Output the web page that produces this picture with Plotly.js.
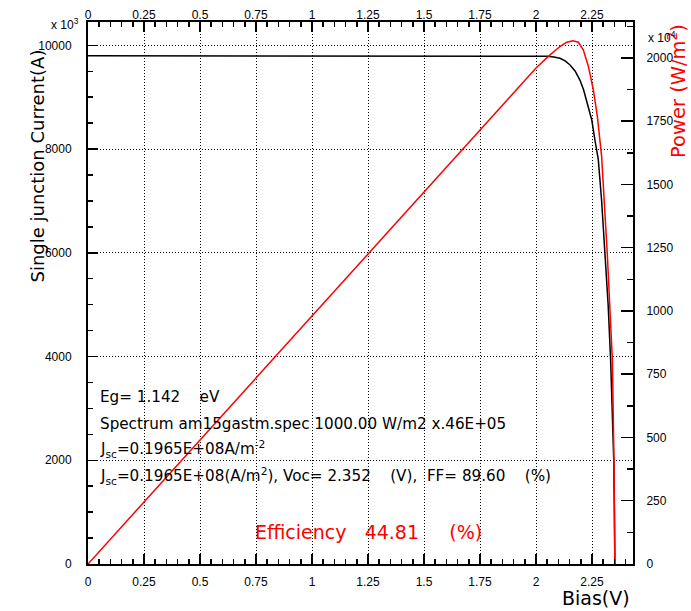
<!DOCTYPE html>
<html>
<head>
<meta charset="utf-8">
<script src="https://cdn.plot.ly/plotly-3.0.1.min.js"></script>
<style>html,body{margin:0;padding:0;background:#fff;}#chart{width:691px;height:611px;}</style>
</head>
<body>
<div id="chart"></div>
<script>
// Current vs bias (x 10^3 A)
const biasIV = [0, 0.5, 1.0, 1.5, 1.9, 2.0, 2.05, 2.08, 2.107, 2.13, 2.152, 2.175, 2.196, 2.212, 2.226, 2.249, 2.263, 2.278, 2.293, 2.308, 2.322, 2.333, 2.342, 2.347, 2.35, 2.352];
const current = [9800, 9800, 9800, 9800, 9800, 9798, 9790, 9775, 9750, 9700, 9620, 9500, 9330, 9150, 8945, 8560, 8175, 7800, 7000, 6000, 5000, 3950, 2900, 2000, 1000, 0];
// Power vs bias (x 10^4 W/m^2)
const biasP = [0, 1.0, 2.0, 2.06, 2.107, 2.137, 2.165, 2.189, 2.211, 2.234, 2.256, 2.274, 2.293, 2.318, 2.341, 2.348, 2.352];
const power = [0, 980, 1960, 2010, 2045, 2062, 2068, 2062, 2032, 1966, 1874, 1768, 1610, 1229, 806, 410, 0];

const xTickVals = [0, 0.25, 0.5, 0.75, 1, 1.25, 1.5, 1.75, 2, 2.25];
const xTickText = ["0", "0.25", "0.5", "0.75", "1", "1.25", "1.5", "1.75", "2", "2.25"];
const yLeftTicks = [0, 2000, 4000, 6000, 8000, 10000];
const yLeftText = ["0", "2000", "4000", "6000", "8000", "10000"];
const yRightTicks = [0, 250, 500, 750, 1000, 1250, 1500, 1750, 2000];
const yRightText = ["0", "250", "500", "750", "1000", "1250", "1500", "1750", "2000"];

const W = 691, H = 611;
const L = 88, R = 633, T = 22, B = 564;
const px = x => (x - L) / (R - L);
const py = y => (B - y) / (B - T);
const FONT = "Liberation Sans, Arial, sans-serif";
const TFONT = "DejaVu Sans, sans-serif";
const NB = "\u00A0";
const sp = n => NB.repeat(n);

const traces = [
  {x: biasIV, y: current, type: "scatter", mode: "lines", line: {color: "#000", width: 1.5}, xaxis: "x", yaxis: "y", hoverinfo: "skip"},
  {x: biasP, y: power, type: "scatter", mode: "lines", line: {color: "#ff0000", width: 1.5}, xaxis: "x2", yaxis: "y2", hoverinfo: "skip"}
];

const xr = [0, 2.433];
const axisCommon = {showline: true, linecolor: "#000", linewidth: 2, zeroline: false, ticks: "inside", tickcolor: "#000", tickwidth: 1.5, tickfont: {family: FONT, size: 12, color: "#000"}, fixedrange: true};

const ann = (x, y, text, opts) => Object.assign({xref: "paper", yref: "paper", x: px(x), y: py(y), text: text, showarrow: false, xanchor: "left", yanchor: "middle", font: {family: TFONT, size: 15.2, color: "#000"}}, opts || {});

const layout = {
  width: W, height: H,
  margin: {l: L, r: W - R, t: T, b: H - B, pad: 0},
  paper_bgcolor: "#fff", plot_bgcolor: "#fff",
  showlegend: false,
  xaxis: Object.assign({}, axisCommon, {range: xr, tickmode: "array", tickvals: xTickVals, ticktext: xTickText, ticklen: 10, ticklabelstandoff: 6,
    showgrid: true, gridcolor: "#000", gridwidth: 1, griddash: "1px,2px",
    minor: {dtick: 0.05, tick0: 0, ticks: "inside", ticklen: 5, tickcolor: "#000", tickwidth: 1.5, showgrid: false}}),
  xaxis2: Object.assign({}, axisCommon, {range: xr, overlaying: "x", side: "top", tickmode: "array", tickvals: xTickVals, ticktext: xTickText, ticklen: 10, ticklabelstandoff: -4, showgrid: false,
    minor: {dtick: 0.05, tick0: 0, ticks: "inside", ticklen: 5, tickcolor: "#000", tickwidth: 1.5, showgrid: false}}),
  yaxis: Object.assign({}, axisCommon, {range: [0, 10450], tickmode: "array", tickvals: yLeftTicks, ticktext: yLeftText, ticklen: 10, ticklabelstandoff: 12,
    showgrid: true, gridcolor: "#000", gridwidth: 1, griddash: "1px,2px",
    minor: {dtick: 500, tick0: 0, ticks: "inside", ticklen: 5, tickcolor: "#000", tickwidth: 1.5, showgrid: false}}),
  yaxis2: Object.assign({}, axisCommon, {range: [0, 2142], overlaying: "y", side: "right", tickmode: "array", tickvals: yRightTicks, ticktext: yRightText, ticklen: 12, ticklabelstandoff: 9, showgrid: false,
    minor: {dtick: 125, tick0: 0, ticks: "inside", ticklen: 6, tickcolor: "#000", tickwidth: 1.5, showgrid: false}}),
  annotations: [
    ann(37, 48, "Single junction Current(A)", {textangle: -90, xanchor: "center", yanchor: "top", font: {family: TFONT, size: 18, color: "#000"}}),
    ann(677, 22, "Power (W/m<sup>2</sup>)", {textangle: -90, xanchor: "center", yanchor: "top", font: {family: TFONT, size: 19.5, color: "#ff0000"}}),
    ann(49, 24, "x 10<sup>3</sup>", {font: {family: FONT, size: 12, color: "#000"}}),
    ann(646, 37, "x 10<sup>4</sup>", {font: {family: FONT, size: 12, color: "#000"}}),
    ann(632, 598, "Bias(V)", {xanchor: "right", font: {family: TFONT, size: 19, color: "#000"}}),
    ann(98, 397, "Eg= 1.142" + sp(4) + "eV"),
    ann(98, 424, "Spectrum am15gastm.spec 1000.00 W/m2 x.46E+05"),
    ann(98, 449, "J<sub>sc</sub>=0.1965E+08A/m<sup>-2</sup>"),
    ann(98, 476, "J<sub>sc</sub>=0.1965E+08(A/m<sup>2</sup>), Voc= 2.352" + sp(4) + "(V)," + sp(2) + "FF= 89.60" + sp(4) + "(%)"),
    ann(253, 532, "Efficiency" + sp(3) + "44.81" + sp(5) + "(%)", {font: {family: TFONT, size: 19, color: "#ff0000"}})
  ]
};

Plotly.newPlot("chart", traces, layout, {staticPlot: true, displayModeBar: false});
</script>
</body>
</html>
